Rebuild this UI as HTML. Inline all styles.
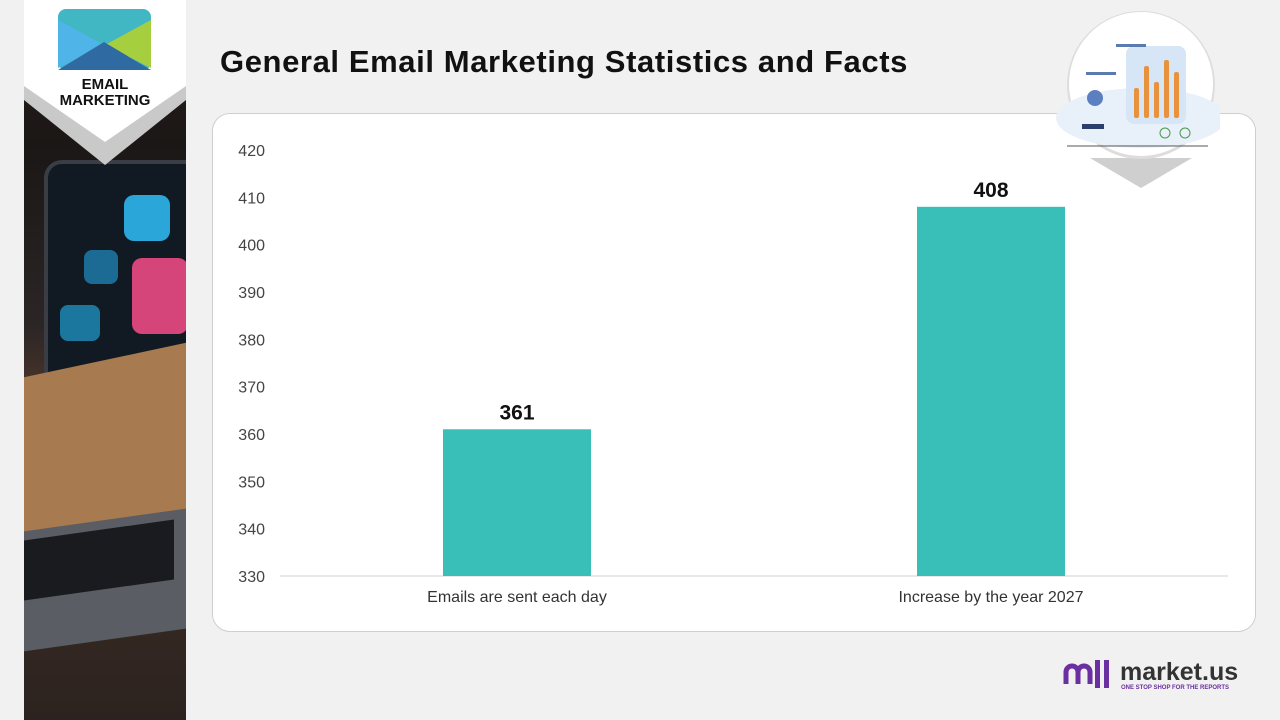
<!DOCTYPE html>
<html><head><meta charset="utf-8">
<style>
body{margin:0;width:1280px;height:720px;background:#f1f1f1;position:relative;overflow:hidden;font-family:"Liberation Sans",sans-serif}
#photo{position:absolute;left:24px;top:0;width:162px;height:720px;background:linear-gradient(180deg,#2a211c 0%,#1b1716 20%,#2b2526 45%,#5a3e2a 60%,#3a2b22 75%,#2c2320 100%);overflow:hidden}
#title{position:absolute;left:220px;top:44px;font-size:31px;font-weight:bold;color:#111;letter-spacing:0.6px;white-space:nowrap}
#card{position:absolute;left:212px;top:113px;width:1042px;height:517px;background:#fff;border:1.5px solid #cfcfcf;border-radius:18px}
</style></head><body>
<div id="photo">
 <div style="position:absolute;left:20px;top:160px;width:160px;height:380px;background:#111a22;border-radius:18px;border:4px solid #3a3d44"></div>
 <div style="position:absolute;left:100px;top:195px;width:46px;height:46px;background:#2aa7d8;border-radius:10px"></div>
 <div style="position:absolute;left:108px;top:258px;width:56px;height:76px;background:#d6457a;border-radius:10px"></div>
 <div style="position:absolute;left:60px;top:250px;width:34px;height:34px;background:#1f7fb3;border-radius:8px;opacity:.8"></div>
 <div style="position:absolute;left:36px;top:305px;width:40px;height:36px;background:#1f8fbf;border-radius:8px;opacity:.8"></div>
 <div style="position:absolute;left:0;top:360px;width:162px;height:190px;background:#a87a50;transform:skewY(-12deg)"></div>
 <div style="position:absolute;left:0;top:520px;width:162px;height:120px;background:#5a5d63;transform:skewY(-8deg)"></div>
 <div style="position:absolute;left:0;top:530px;width:150px;height:60px;background:#1a1b1e;transform:skewY(-8deg)"></div>
</div>
<svg style="position:absolute;left:24px;top:0" width="162" height="175">
 <polygon points="0,0 162,0 162,100 81,165 0,100" fill="#c9c9c9"/>
 <polygon points="0,0 162,0 162,86 81,142 0,86" fill="#fff"/>
 <rect x="34" y="9" width="93" height="61" rx="8" fill="#41b7c4"/>
 <polygon points="34,20 80,45 34,68" fill="#4fb5e8"/>
 <polygon points="127,20 81,45 127,68" fill="#a5cf3f"/>
 <polygon points="34,70 80,42 127,70" fill="#2f6aa3"/>
 <text x="81" y="89" text-anchor="middle" font-size="15" font-weight="bold" fill="#111">EMAIL</text>
 <text x="81" y="105" text-anchor="middle" font-size="15" font-weight="bold" fill="#111">MARKETING</text>
</svg>
<div id="title">General Email Marketing Statistics and Facts</div>
<div id="card"></div>
<svg id="chart" style="position:absolute;left:0;top:0" width="1280" height="720"></svg>
<svg style="position:absolute;left:1050px;top:8px" width="170" height="185">
 <polygon points="40,150 91,180 142,150" fill="#cfcfcf"/>
 <circle cx="91" cy="77" r="74" fill="#ddd"/>
 <circle cx="91" cy="76" r="72" fill="#fff"/>
 <ellipse cx="91" cy="110" rx="85" ry="30" fill="#e8f0fa"/>
 <rect x="76" y="38" width="60" height="78" rx="8" fill="#d7e6f7"/>
 <rect x="84" y="80" width="5" height="30" rx="2" fill="#e8923e"/>
 <rect x="94" y="58" width="5" height="52" rx="2" fill="#e8923e"/>
 <rect x="104" y="74" width="5" height="36" rx="2" fill="#e8923e"/>
 <rect x="114" y="52" width="5" height="58" rx="2" fill="#e8923e"/>
 <rect x="124" y="64" width="5" height="46" rx="2" fill="#e8923e"/>
 <rect x="36" y="64" width="30" height="3" fill="#5a7bb0"/>
 <rect x="66" y="36" width="30" height="3" fill="#5a7bb0"/>
 <circle cx="45" cy="90" r="8" fill="#5b7fc0"/>
 <rect x="32" y="116" width="22" height="5" fill="#2a3f6b"/>
 <line x1="17" y1="138" x2="158" y2="138" stroke="#555" stroke-width="1"/>
 <circle cx="115" cy="125" r="5" fill="none" stroke="#4a9a4a"/><circle cx="135" cy="125" r="5" fill="none" stroke="#4a9a4a"/>
</svg>
<svg style="position:absolute;left:1062px;top:656px" width="200" height="40">
 <path d="M4,28 v-12 a6,6 0 0 1 12,0 v12 M16,16 a6,6 0 0 1 12,0 v12" fill="none" stroke="#6a2fa0" stroke-width="5"/>
 <rect x="33" y="4" width="5" height="28" fill="#6a2fa0"/><rect x="42" y="4" width="5" height="28" fill="#6a2fa0"/>
 <text x="58" y="24" font-size="25" font-weight="bold" fill="#333">market.us</text>
 <text x="59" y="33" font-size="6" fill="#6a2fa0" font-weight="bold">ONE STOP SHOP FOR THE REPORTS</text>
</svg>
<script>
const categories=["Emails are sent each day","Increase by the year 2027"];
const values=[361,408];
const ticks=[330,340,350,360,370,380,390,400,410,420];
const NS="http://www.w3.org/2000/svg";
const svg=document.getElementById('chart');
const y0=576,y1=150,vmin=330,vmax=420;
function yS(v){return y0-(v-vmin)/(vmax-vmin)*(y0-y1);}
const xL=280,xR=1228,bw=148;
function xC(i){return xL+(xR-xL)*(i+0.5)/categories.length;}
function mk(t,a,txt){const e=document.createElementNS(NS,t);for(const k in a)e.setAttribute(k,a[k]);if(txt!==undefined)e.textContent=txt;svg.appendChild(e);return e;}
ticks.forEach(t=>{
 const e=mk('text',{x:265,y:yS(t)+6,'text-anchor':'end','font-size':16,fill:'#444'},t);
 
 
});
const ax=mk('line',{x1:xL,x2:xR,y1:y0,y2:y0,stroke:'#d0d0d0','stroke-width':1});


categories.forEach((c,i)=>{
 const cx=xC(i);
 const r=mk('rect',{x:cx-bw/2,y:yS(values[i]),width:bw,height:y0-yS(values[i]),fill:'#3abfb8'});
 
 
 const v=mk('text',{x:cx,y:yS(values[i])-10,'text-anchor':'middle','font-size':21,'font-weight':'bold',fill:'#111'},values[i]);
 
 
 const l=mk('text',{x:cx,y:602,'text-anchor':'middle','font-size':16,fill:'#333'},c);
 
 
});
</script>
</body></html>
